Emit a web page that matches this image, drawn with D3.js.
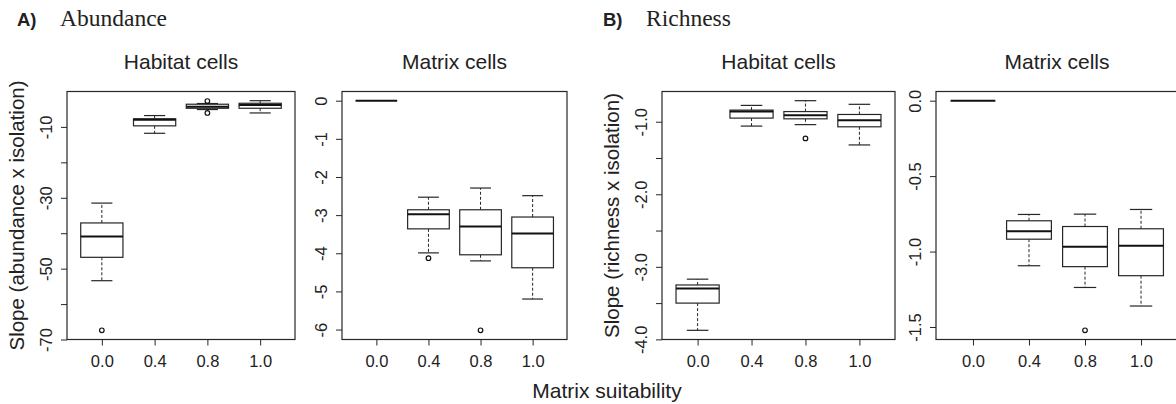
<!DOCTYPE html>
<html lang="en">
<head>
<meta charset="utf-8">
<title>Slope vs matrix suitability</title>
<script src="https://d3js.org/d3.v7.min.js"></script>
<style>
  body { margin: 0; background: #fff; }
  text { font-family: "Liberation Sans", Arial, sans-serif; fill: #222; }
</style>
</head>
<body>
<script>
// categories on the x axis (matrix suitability)
const groups = ["0.0", "0.4", "0.8", "1.0"];

// box summaries per group: [lower whisker, Q1, median, Q3, upper whisker]
const abHabitatStats = [[-53.4, -46.8, -40.9, -37.1, -31.5], [-11.8, -9.7, -8.0, -7.7, -6.8],
                        [-5.1, -4.74, -4.3, -3.6, -3.4], [-6.06, -4.74, -3.8, -3.33, -2.6]];
const abHabitatOut = [[-67.4], [], [-2.7, -6.06], []];

const abMatrixStats = [[0, 0, 0, 0, 0], [-3.99, -3.36, -2.98, -2.86, -2.53],
                       [-4.2, -4.04, -3.3, -2.86, -2.29], [-5.2, -4.38, -3.48, -3.05, -2.49]];
const abMatrixOut = [[], [-4.13], [-6.02], []];

const riHabitatStats = [[-3.875, -3.5, -3.3, -3.25, -3.17], [-1.06, -0.95, -0.86, -0.84, -0.775],
                        [-1.04, -0.96, -0.91, -0.86, -0.71], [-1.32, -1.07, -0.98, -0.9, -0.76]];
const riHabitatOut = [[], [], [-1.23], []];

const riMatrixStats = [[0, 0, 0, 0, 0], [-1.094, -0.918, -0.865, -0.796, -0.754],
                       [-1.238, -1.1, -0.968, -0.834, -0.752], [-1.361, -1.16, -0.962, -0.849, -0.721]];
const riMatrixOut = [[], [], [-1.522], []];

// y ticks, and which of them get a label
const abHabitatTicks = [-70, -60, -50, -40, -30, -20, -10];
const abHabitatLabels = [-70, -50, -30, -10];
const abMatrixTicks = [-6, -5, -4, -3, -2, -1, 0];
const riHabitatTicks = [-4, -3.5, -3, -2.5, -2, -1.5, -1];
const riHabitatLabels = [-4, -3, -2, -1];
const riMatrixTicks = [-1.5, -1, -0.5, 0];

const W = 1176, H = 404;
const plotTop = 91.5, plotBottom = 339.5;
const ink = "#262626";

const svg = d3.select("body").append("svg")
    .attr("width", W).attr("height", H);

const panels = [
  { x0: 67,  x1: 295,  title: "Habitat cells", stats: abHabitatStats, out: abHabitatOut,
    ticks: abHabitatTicks, labels: abHabitatLabels, fmt: d3.format("d"),
    ylab: "Slope (abundance x isolation)" },
  { x0: 342, x1: 567,  title: "Matrix cells", stats: abMatrixStats, out: abMatrixOut,
    ticks: abMatrixTicks, labels: abMatrixTicks, fmt: d3.format("d") },
  { x0: 662, x1: 895,  title: "Habitat cells", stats: riHabitatStats, out: riHabitatOut,
    ticks: riHabitatTicks, labels: riHabitatLabels, fmt: d3.format(".1f"),
    ylab: "Slope (richness x isolation)" },
  { x0: 936, x1: 1178, title: "Matrix cells", stats: riMatrixStats, out: riMatrixOut,
    ticks: riMatrixTicks, labels: riMatrixTicks, fmt: d3.format(".1f") }
];

const minus = s => s.replace("−", "-");

panels.forEach(p => {
  // y range padded 4% each side, as R does
  const vals = p.stats.flat().concat(p.out.flat());
  const lo = d3.min(vals), hi = d3.max(vals), pad = (hi - lo) * 0.04;
  const y = d3.scaleLinear().domain([lo - pad, hi + pad]).range([plotBottom, plotTop]);
  const x = d3.scaleLinear().domain([0.34, 4.66]).range([p.x0, p.x1]);
  const bw = (x(1.8) - x(1)), cw = bw / 2;

  const g = svg.append("g");

  // y axis
  const ya = g.append("g")
      .attr("transform", `translate(${p.x0},0)`)
      .call(d3.axisLeft(y).tickValues(p.ticks).tickSize(6)
        .tickFormat(d => p.labels.includes(d) ? minus(p.fmt(d)) : ""));
  ya.select(".domain").remove();
  ya.selectAll("line").attr("stroke", ink);
  ya.selectAll("text")
      .attr("x", null).attr("dy", null)
      .attr("transform", "translate(-15,0) rotate(-90)")
      .attr("text-anchor", "middle")
      .style("font-size", "16.5px").style("font-family", "Liberation Sans, Arial, sans-serif")
      .attr("fill", "#222");

  // x axis
  const xa = g.append("g")
      .attr("transform", `translate(0,${plotBottom})`)
      .call(d3.axisBottom(x).tickValues([1, 2, 3, 4]).tickSize(6).tickPadding(9.5)
        .tickFormat(d => groups[d - 1]));
  xa.select(".domain").remove();
  xa.selectAll("line").attr("stroke", ink);
  xa.selectAll("text")
      .style("font-size", "16.5px").style("font-family", "Liberation Sans, Arial, sans-serif")
      .attr("fill", "#222");

  // frame
  g.append("rect")
      .attr("x", p.x0).attr("y", plotTop)
      .attr("width", p.x1 - p.x0).attr("height", plotBottom - plotTop)
      .attr("fill", "none").attr("stroke", ink).attr("stroke-width", 1.2);

  // boxes
  const box = g.selectAll(".box").data(p.stats).join("g").attr("class", "box");
  box.each(function (s, i) {
    const b = d3.select(this), cx = x(i + 1);
    const [wl, q1, md, q3, wh] = s;
    if (wh !== wl) {
      b.append("line").attr("x1", cx).attr("x2", cx).attr("y1", y(q3)).attr("y2", y(wh))
          .attr("stroke", ink).attr("stroke-dasharray", "3,2");
      b.append("line").attr("x1", cx).attr("x2", cx).attr("y1", y(q1)).attr("y2", y(wl))
          .attr("stroke", ink).attr("stroke-dasharray", "3,2");
      [wl, wh].forEach(v => b.append("line")
          .attr("x1", cx - cw / 2).attr("x2", cx + cw / 2).attr("y1", y(v)).attr("y2", y(v))
          .attr("stroke", ink).attr("stroke-width", 1.2));
      b.append("rect")
          .attr("x", cx - bw / 2).attr("y", y(q3))
          .attr("width", bw).attr("height", Math.max(0, y(q1) - y(q3)))
          .attr("fill", "#fff").attr("stroke", ink).attr("stroke-width", 1.2);
    }
    b.append("line")
        .attr("x1", cx - bw / 2).attr("x2", cx + bw / 2).attr("y1", y(md)).attr("y2", y(md))
        .attr("stroke", "#111").attr("stroke-width", 2);
    b.selectAll("circle").data(p.out[i]).join("circle")
        .attr("cx", cx).attr("cy", d => y(d)).attr("r", 2.3)
        .attr("fill", "none").attr("stroke", "#111").attr("stroke-width", 1.2);
  });

  // panel title
  g.append("text")
      .attr("x", (p.x0 + p.x1) / 2).attr("y", 69)
      .attr("text-anchor", "middle").style("font-size", "21px")
      .text(p.title);

  if (p.ylab) {
    g.append("text")
        .attr("transform", `translate(${p.x0 - 43},${(plotTop + plotBottom) / 2}) rotate(-90)`)
        .attr("text-anchor", "middle").style("font-size", "20.5px")
        .text(p.ylab);
  }
});

// section headings
const heads = [{ x: 17, tag: "A)", name: "Abundance" }, { x: 603, tag: "B)", name: "Richness" }];
heads.forEach(h => {
  svg.append("text").attr("x", h.x).attr("y", 26)
      .style("font-size", "18.5px").style("font-weight", "bold").text(h.tag);
  svg.append("text").attr("x", h.x + 43).attr("y", 26)
      .style("font-size", "23.5px").style("font-family", "Liberation Serif, Times New Roman, serif")
      .text(h.name);
});

svg.append("text")
    .attr("x", 607).attr("y", 398)
    .attr("text-anchor", "middle").style("font-size", "21px")
    .text("Matrix suitability");
</script>
</body>
</html>
